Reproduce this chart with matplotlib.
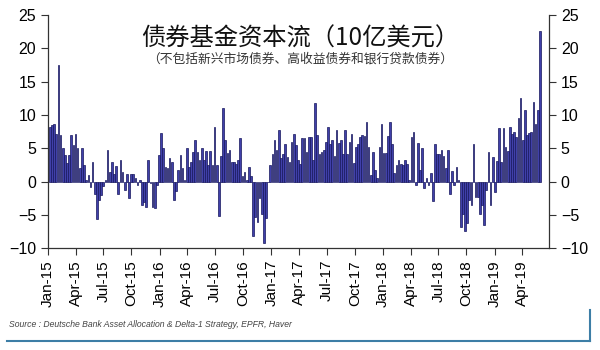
import matplotlib
matplotlib.use("Agg")
import matplotlib.pyplot as plt
import matplotlib.dates as mdates
import numpy as np
import pandas as pd
from matplotlib.lines import Line2D

plt.rcParams["font.family"] = ["Liberation Sans", "Noto Sans CJK SC", "DejaVu Sans"]

# weekly bond fund flows, $bn
flows_2015 = [8.2, 8.5, 8.6, 7.2, 17.5, 7.0, 5.0, 4.0, 2.8, 4.0, 7.0, 5.5, 7.1, 5.0, 2.1, 5.0,
              2.5, 0.2, 1.0, -0.8, 2.9, -1.8, -5.6, -2.8, -2.0, -0.7, 0.2, 4.8, 1.5, 3.0, 1.2,
              2.3, -1.8, 3.3, 1.5, -1.2, 1.1, -2.4, 1.2, 1.1, 0.5, -0.5, 0.3, -3.5, -3.0, -3.8,
              3.2, -0.2, -3.8, -3.9, -0.5]
flows_2016 = [4.0, 7.3, 5.0, 2.2, 2.0, 3.6, 3.0, -2.8, -1.4, 1.7, 4.0, 2.0, 0.2, 5.0, 2.2, 2.9,
              4.5, 6.2, 4.5, 3.3, 5.0, 3.3, 4.6, 2.5, 4.6, 2.5, 8.2, 2.5, -5.2, 3.9, 11.1, 6.2,
              4.3, 4.7, 3.0, 3.0, 2.6, 3.2, 6.5, 0.8, 1.5, 0.2, 2.2, 0.8, -8.2, -5.3, -6.0,
              -2.5, -4.8, -9.3, -5.4]
flows_2017 = [0.0, 2.5, 4.2, 6.3, 4.8, 7.7, 3.5, 4.2, 5.6, 3.7, 3.0, 6.0, 7.2, 5.5, 3.3, 2.7,
              6.5, 6.5, 4.5, 6.7, 6.7, 3.3, 11.8, 7.0, 4.2, 4.5, 4.7, 6.0, 8.2, 5.6, 6.3, 3.8,
              7.7, 5.8, 6.2, 4.2, 7.7, 4.2, 6.0, 7.2, 2.8, 5.2, 5.7, 6.7, 7.0, 6.8, 9.0, 5.2,
              1.0, 4.5, 1.7, 0.5, 5.2, 8.6]
flows_2018 = [4.3, 4.3, 6.8, 9.0, 5.6, 1.3, 2.5, 3.2, 2.7, 2.5, 3.2, 2.7, 0.2, 6.7, 7.5, -0.5,
              5.8, 1.7, 5.0, -1.0, 0.5, -0.5, 1.3, -2.9, 5.7, 4.2, 4.1, 4.7, 3.8, 2.0, 4.7,
              -1.8, 1.6, -0.5, 2.2, 0.2, -6.8, -4.8, -7.4, -6.2, -2.7, -3.5, 5.7, -2.3, -2.3,
              -4.8, -3.5, -6.5, -1.3]
flows_2019 = [4.5, -3.5, 3.7, -1.5, 3.1, 8.0, 3.0, 8.0, 5.2, 4.6, 8.2, 7.2, 7.5, 6.7, 9.5,
              12.6, 6.2, 10.7, 7.0, 7.3, 7.5, 12.0, 8.7, 10.7, 22.6]

flows = flows_2015 + flows_2016 + flows_2017 + flows_2018 + flows_2019
weeks = pd.date_range("2015-01-07", periods=len(flows), freq="7D")

fig = plt.figure(figsize=(6, 3.5), dpi=100)
ax = fig.add_axes([0.08, 0.291, 0.835, 0.666])

ax.bar(weeks, flows, width=5.5, color="#4040aa", edgecolor="#16165c", linewidth=0.5)

ax.set_ylim(-10, 25)
ax.set_yticks(np.arange(-10, 26, 5))
ax.set_xlim(pd.Timestamp("2015-01-01"), pd.Timestamp("2019-06-28"))
ax.xaxis.set_major_locator(mdates.MonthLocator(bymonth=[1, 4, 7, 10]))
ax.xaxis.set_major_formatter(mdates.DateFormatter("%b-%y"))
plt.setp(ax.get_xticklabels(), rotation=90)

ax.tick_params(axis="y", which="both", left=True, right=True, labelleft=True,
               labelright=True, labelsize=11.5, direction="out", length=5, color="#333")
ax.tick_params(axis="x", labelsize=11, direction="out", length=5, color="#333")
ax.spines["top"].set_visible(False)
for s in ["left", "right", "bottom"]:
    ax.spines[s].set_color("#333")
    ax.spines[s].set_linewidth(0.9)

fig.text(0.5, 0.89, "债券基金资本流（10亿美元）", ha="center", va="center", fontsize=17.5,
         family=["Noto Sans CJK SC", "DejaVu Sans"], color="#111")
fig.text(0.5, 0.83, "（不包括新兴市场债券、高收益债券和银行贷款债券）", ha="center",
         va="center", fontsize=9.2, family=["Noto Sans CJK SC", "DejaVu Sans"], color="#333")

fig.text(0.015, 0.072, "Source : Deutsche Bank Asset Allocation & Delta-1 Strategy, EPFR, Haver",
         fontsize=6.2, style="italic", color="#444", va="center")
fig.add_artist(Line2D([0.012, 0.983], [0.027, 0.027], transform=fig.transFigure,
                      color="#3d7ea6", lw=1.5))
fig.add_artist(Line2D([0.983, 0.983], [0.027, 0.115], transform=fig.transFigure,
                      color="#3d7ea6", lw=1.5))

fig.savefig("out.png", dpi=100, facecolor="white")
